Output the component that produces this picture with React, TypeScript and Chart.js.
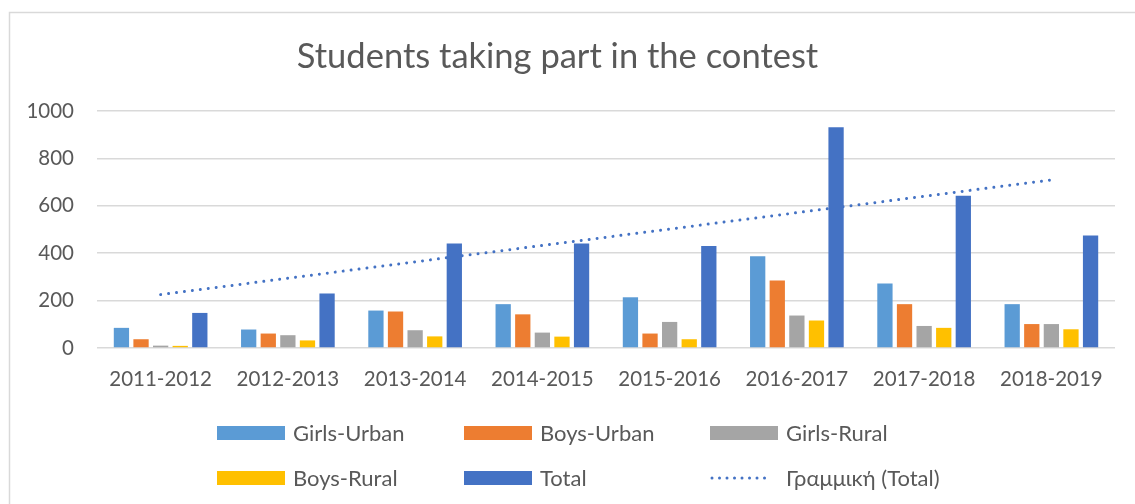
import React, { useEffect, useRef } from 'react';
import { Chart, registerables } from 'chart.js';

Chart.register(...registerables);

const categories = ['2011-2012', '2012-2013', '2013-2014', '2014-2015', '2015-2016', '2016-2017', '2017-2018', '2018-2019'];
const girlsUrban = [85, 78, 158, 185, 214, 387, 272, 185];
const boysUrban = [37, 61, 154, 142, 61, 285, 185, 101];
const girlsRural = [10, 54, 75, 65, 110, 137, 93, 101];
const boysRural = [9, 32, 49, 48, 37, 116, 85, 79];
const total = [148, 230, 441, 441, 430, 931, 642, 475];

const seriesLabels = ['Girls-Urban', 'Boys-Urban', 'Girls-Rural', 'Boys-Rural', 'Total'];
const seriesColors = ['#5B9BD5', '#ED7D31', '#A5A5A5', '#FFC000', '#4472C4'];
const trendLabel = 'Γραμμική (Total)';
const trendColor = '#4472C4';
const titleText = 'Students taking part in the contest';

const FONT = 'Lato, "Open Sans", sans-serif';
const TEXT = '#595959';

// Linear least-squares trend of the Total series (Excel "Linear" trendline)
function linearTrend(values: number[]): number[] {
  const n = values.length;
  const xs = values.map((_, i) => i + 1);
  const mx = xs.reduce((a, b) => a + b, 0) / n;
  const my = values.reduce((a, b) => a + b, 0) / n;
  let num = 0;
  let den = 0;
  for (let i = 0; i < n; i++) {
    num += (xs[i] - mx) * (values[i] - my);
    den += (xs[i] - mx) * (xs[i] - mx);
  }
  const slope = num / den;
  return xs.map((x) => my + slope * (x - mx));
}

const frameBorder = {
  id: 'frameBorder',
  beforeDraw(chart: any) {
    const ctx = chart.ctx;
    ctx.save();
    ctx.fillStyle = '#ffffff';
    ctx.fillRect(0, 0, chart.width, chart.height);
    ctx.strokeStyle = '#d9d9d9';
    ctx.lineWidth = 1.5;
    ctx.strokeRect(9.5, 12.5, chart.width + 20, chart.height + 20);
    ctx.restore();
  },
};

export default function App() {
  const canvasRef = useRef<HTMLCanvasElement | null>(null);

  useEffect(() => {
    document.body.style.margin = '0';
    const canvas = canvasRef.current;
    if (!canvas) return;
    const seriesData = [girlsUrban, boysUrban, girlsRural, boysRural, total];
    const barSets = seriesData.map((d, i) => ({
      type: 'bar' as const,
      label: seriesLabels[i],
      data: d,
      backgroundColor: seriesColors[i],
      borderWidth: 0,
      barPercentage: 0.78,
      categoryPercentage: 0.77,
      order: 0,
    }));
    const chart = new Chart(canvas, {
      type: 'bar',
      data: {
        labels: categories,
        datasets: [
          ...barSets,
          {
            type: 'line' as const,
            label: trendLabel,
            data: linearTrend(total),
            borderColor: trendColor,
            backgroundColor: trendColor,
            borderWidth: 3,
            borderDash: [0.001, 8],
            borderCapStyle: 'round',
            pointRadius: 0,
            fill: false,
            order: 1,
          } as any,
        ],
      },
      options: {
        animation: false,
        responsive: false,
        maintainAspectRatio: false,
        layout: { padding: { left: 0, right: 20, top: 0, bottom: 106 } },
        plugins: {
          legend: { display: false },
          tooltip: { enabled: false },
          title: {
            display: true,
            text: titleText,
            color: TEXT,
            font: { family: FONT, size: 34.5, weight: 'normal' as any },
            padding: { top: 36.3, bottom: 33.3 },
          },
        },
        scales: {
          x: {
            grid: { display: false, drawTicks: false },
            border: { display: false },
            ticks: { color: TEXT, font: { family: FONT, size: 20.5 }, padding: 19, maxRotation: 0, autoSkip: false },
            afterFit: (scale: any) => {
              scale.height = 50;
            },
          },
          y: {
            min: 0,
            max: 1000,
            ticks: {
              stepSize: 200,
              color: TEXT,
              font: { family: FONT, size: 20.5 },
              padding: 23,
              callback: (v: any) => String(v),
            },
            grid: { color: '#d9d9d9', lineWidth: 1.5, drawTicks: false },
            border: { display: false },
            afterFit: (scale: any) => {
              scale.width = 97;
            },
          },
        },
      },
      plugins: [frameBorder],
    });
    return () => chart.destroy();
  }, []);

  const legendItems = [
    ...seriesLabels.map((l, i) => ({ label: l, color: seriesColors[i], kind: 'box' })),
    { label: trendLabel, color: trendColor, kind: 'dots' },
  ];
  const colX = [217, 464, 710];
  const rowY = [433, 478];

  return (
    <div style={{ position: 'fixed', left: 0, top: 0, width: 1135, height: 504, background: '#fff' }}>
      <canvas ref={canvasRef} width={1135} height={504} style={{ width: 1135, height: 504, display: 'block' }} />
      {legendItems.map((it, i) => {
        const x = colX[i % 3];
        const y = rowY[Math.floor(i / 3)];
        return (
          <div key={it.label} style={{ position: 'absolute', left: x, top: y - 13, height: 26, display: 'flex', alignItems: 'center' }}>
            {it.kind === 'box' ? (
              <div style={{ width: 68, height: 14, background: it.color }} />
            ) : (
              <svg width={68} height={14} style={{ display: 'block' }}>
                <line x1={2} y1={7} x2={62} y2={7} stroke={it.color} strokeWidth={3} strokeLinecap="round" strokeDasharray="0.001 7.5" />
              </svg>
            )}
            <span style={{ marginLeft: 8, font: `22px ${FONT}`, color: TEXT, lineHeight: '26px', whiteSpace: 'nowrap' }}>{it.label}</span>
          </div>
        );
      })}
    </div>
  );
}
